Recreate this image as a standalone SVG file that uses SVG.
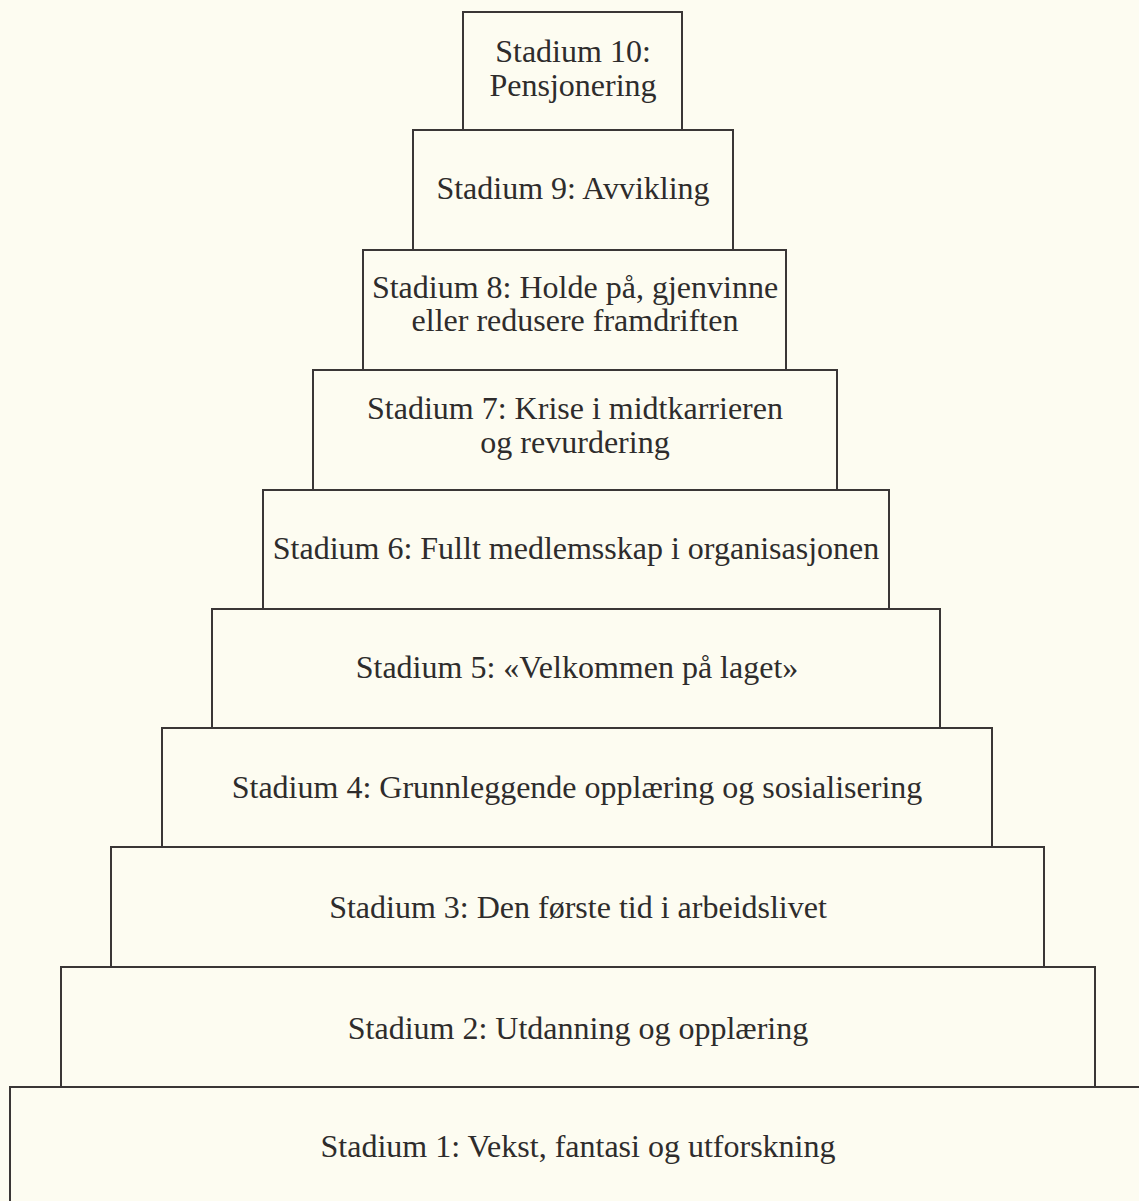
<svg xmlns="http://www.w3.org/2000/svg" width="1139" height="1201" viewBox="0 0 1139 1201">
<style>
.b{fill:#fdfcf1;stroke:#3a3636;stroke-width:2}
.t{font-family:"Liberation Serif","Times New Roman",serif;font-size:32px;fill:#2e2c2c;text-anchor:middle}
</style>
<rect width="1139" height="1201" fill="#fdfcf1"/>
<g id="s1"><rect class="b" x="10" y="1087" width="1140" height="130"/><text class="t" x="578" y="1157">Stadium 1: Vekst, fantasi og utforskning</text></g>
<g id="s2"><rect class="b" x="61" y="967" width="1034" height="120"/><text class="t" x="578" y="1039">Stadium 2: Utdanning og opplæring</text></g>
<g id="s3"><rect class="b" x="111" y="847" width="933" height="120"/><text class="t" x="578" y="918">Stadium 3: Den første tid i arbeidslivet</text></g>
<g id="s4"><rect class="b" x="162" y="728" width="830" height="119"/><text class="t" x="577" y="798">Stadium 4: Grunnleggende opplæring og sosialisering</text></g>
<g id="s5"><rect class="b" x="212" y="609" width="728" height="119"/><text class="t" x="577" y="678">Stadium 5: «Velkommen på laget»</text></g>
<g id="s6"><rect class="b" x="263" y="490" width="626" height="119"/><text class="t" x="576" y="559">Stadium 6: Fullt medlemsskap i organisasjonen</text></g>
<g id="s7"><rect class="b" x="313" y="370" width="524" height="120"/><text class="t" x="575" y="419">Stadium 7: Krise i midtkarrieren</text><text class="t" x="575" y="453">og revurdering</text></g>
<g id="s8"><rect class="b" x="363" y="250" width="423" height="120"/><text class="t" x="575" y="298">Stadium 8: Holde på, gjenvinne</text><text class="t" x="575" y="331">eller redusere framdriften</text></g>
<g id="s9"><rect class="b" x="413" y="130" width="320" height="120"/><text class="t" x="573" y="199">Stadium 9: Avvikling</text></g>
<g id="s10"><rect class="b" x="463" y="12" width="219" height="118"/><text class="t" x="573" y="62">Stadium 10:</text><text class="t" x="573" y="96">Pensjonering</text></g>
<g id="connectors"/>
</svg>
